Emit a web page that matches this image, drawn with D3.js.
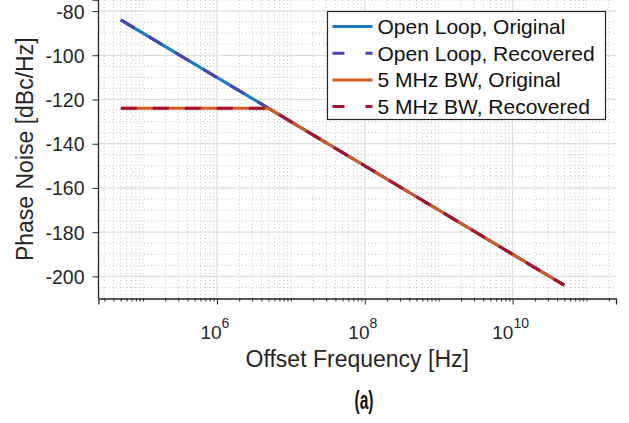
<!DOCTYPE html>
<html>
<head>
<meta charset="utf-8">
<script src="https://cdn.jsdelivr.net/npm/d3@7"></script>
<style>
  body { margin: 0; background: #fff; }
  svg { display: block; font-family: "Liberation Sans", Arial, Helvetica, sans-serif; }
</style>
</head>
<body>
<svg id="chart" width="629" height="423"></svg>
<script>
// offset frequency points [Hz]
const freqs = [5e4, 5e5, 5e6, 5e7, 5e8, 5e9, 5e10];
// phase noise series [dBc/Hz]
const openLoopOriginal = [-84, -104, -124, -144, -164, -184, -204];
const openLoopRecovered = [-84, -104, -124, -144, -164, -184, -204];
const bw5Original = [-124, -124, -124, -144, -164, -184, -204];
const bw5Recovered = [-124, -124, -124, -144, -164, -184, -204];

const seriesNames = ["Open Loop, Original", "Open Loop, Recovered", "5 MHz BW, Original", "5 MHz BW, Recovered"];
const xTickExps = [6, 8, 10];
const yTicks = [-200, -180, -160, -140, -120, -100, -80];

const series = [
  { name: seriesNames[0], values: openLoopOriginal, color: "#1a7bc4", dash: null },
  { name: seriesNames[1], values: openLoopRecovered, color: "#4a44b2", dash: "16,16" },
  { name: seriesNames[2], values: bw5Original, color: "#d9581f", dash: null },
  { name: seriesNames[3], values: bw5Recovered, color: "#a2142f", dash: "16,16" }
];

const pLeft = 98.5, pRight = 616, pTop = 0, pBottom = 298.5;
const svg = d3.select("#chart");
const ink = "#262626";

const x = d3.scaleLog().domain([2.5e4, 2.5e11]).range([pLeft, pRight]);
const y = d3.scaleLinear().domain([-210, -75]).range([pBottom, pTop]);

// minor grid values
const xMinor = [];
for (let k = 4; k <= 11; k++) {
  for (let m = 1; m <= 9; m++) {
    const v = m * Math.pow(10, k);
    if (v >= 2.5e4 && v <= 2.5e11 && !(m === 1 && xTickExps.includes(k))) xMinor.push(v);
  }
}
const yMinor = d3.range(-210, -74, 5).filter(v => !yTicks.includes(v));

const grid = svg.append("g");
grid.selectAll("line.xm").data(xMinor).enter().append("line")
  .attr("x1", d => x(d)).attr("x2", d => x(d)).attr("y1", pTop).attr("y2", pBottom)
  .attr("stroke", "#c4c4c4").attr("stroke-width", 1).attr("stroke-dasharray", "1,2.5");
grid.selectAll("line.ym").data(yMinor).enter().append("line")
  .attr("x1", pLeft).attr("x2", pRight).attr("y1", d => y(d)).attr("y2", d => y(d))
  .attr("stroke", "#c4c4c4").attr("stroke-width", 1).attr("stroke-dasharray", "1,2.5");
grid.selectAll("line.xM").data(xTickExps).enter().append("line")
  .attr("x1", d => x(Math.pow(10, d))).attr("x2", d => x(Math.pow(10, d)))
  .attr("y1", pTop).attr("y2", pBottom)
  .attr("stroke", "#dedede").attr("stroke-width", 1.2);
grid.selectAll("line.yM").data(yTicks).enter().append("line")
  .attr("x1", pLeft).attr("x2", pRight).attr("y1", d => y(d)).attr("y2", d => y(d))
  .attr("stroke", "#dedede").attr("stroke-width", 1.2);

// data lines
const line = d3.line().x((d, i) => x(freqs[i])).y(d => y(d));
svg.append("g").selectAll("path").data(series).enter().append("path")
  .attr("d", d => line(d.values))
  .attr("fill", "none")
  .attr("stroke", d => d.color)
  .attr("stroke-width", 3)
  .attr("stroke-dasharray", d => d.dash);

// x axis
const xAxisG = svg.append("g").attr("transform", `translate(0,${pBottom})`);
xAxisG.call(d3.axisBottom(x).tickValues(xMinor).tickSize(3).tickFormat(""))
  .call(g => g.select(".domain").remove());
xAxisG.append("g").call(d3.axisBottom(x).tickValues(xTickExps.map(e => Math.pow(10, e))).tickSize(6).tickFormat(""));
xAxisG.selectAll("line").attr("stroke", ink);
xAxisG.selectAll(".domain").attr("stroke", ink).attr("stroke-width", 1.3);

const xLabels = svg.append("g");
xTickExps.forEach(e => {
  const t = xLabels.append("text")
    .attr("x", x(Math.pow(10, e)) - 2)
    .attr("y", 339)
    .attr("text-anchor", "middle")
    .attr("fill", ink)
    .style("font-size", "19px");
  t.append("tspan").text("10");
  t.append("tspan").attr("dy", -11).style("font-size", "14px").text(e);
});

// y axis
const yAxisG = svg.append("g").attr("transform", `translate(${pLeft},0)`);
yAxisG.call(d3.axisLeft(y).tickValues(yTicks).tickSize(6).tickPadding(8).tickFormat(d => String(d)));
yAxisG.select(".domain").attr("stroke", ink).attr("stroke-width", 1.3).attr("d", `M-6,${pTop}H0V${pBottom}`);
yAxisG.selectAll("line").attr("stroke", ink);
yAxisG.selectAll("text").attr("fill", ink).style("font-size", "19.5px")
  .style("font-family", "'Liberation Sans', Arial, sans-serif").attr("dy", "0.36em");

// axis titles
svg.append("text")
  .attr("x", (pLeft + pRight) / 2).attr("y", 367)
  .attr("text-anchor", "middle").attr("fill", ink)
  .style("font-size", "23px")
  .text("Offset Frequency [Hz]");
svg.append("text")
  .attr("transform", `translate(33,${(pTop + pBottom) / 2}) rotate(-90)`)
  .attr("text-anchor", "middle").attr("fill", ink)
  .style("font-size", "23px")
  .text("Phase Noise [dBc/Hz]");
svg.append("text")
  .attr("x", 364).attr("y", 409)
  .attr("text-anchor", "middle").attr("fill", "#111")
  .style("font-size", "26px").style("font-weight", "bold")
  .attr("textLength", 19).attr("lengthAdjust", "spacingAndGlyphs")
  .text("(a)");

// legend
const legend = svg.append("g").attr("transform", "translate(327.5,11.5)");
legend.append("rect").attr("width", 278).attr("height", 108)
  .attr("fill", "#fff").attr("stroke", ink).attr("stroke-width", 1.2);
const items = legend.selectAll("g.item").data(series).enter().append("g")
  .attr("transform", (d, i) => `translate(0,${15 + i * 26.7})`);
items.append("line")
  .attr("x1", 5).attr("x2", 45).attr("y1", 0).attr("y2", 0)
  .attr("stroke", d => d.color).attr("stroke-width", 3)
  .attr("stroke-dasharray", d => d.dash ? "12,21" : null);
items.append("text")
  .attr("x", 50).attr("y", 0).attr("dy", "0.36em")
  .attr("fill", "#111").style("font-size", "21px")
  .text(d => d.name);
</script>
</body>
</html>
